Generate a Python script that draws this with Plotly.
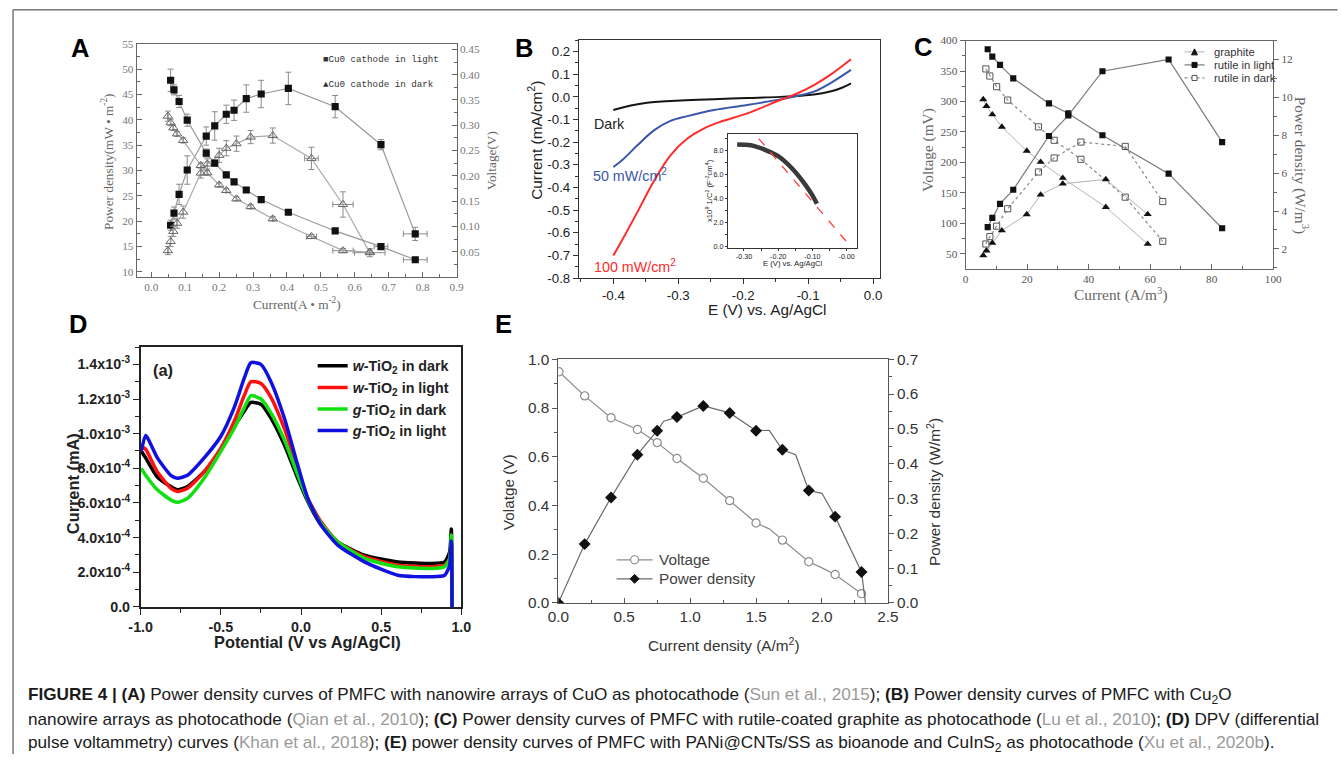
import plotly.graph_objects as go

W, H = 1341, 762
# the photographed page lands at screen = A + B * page; place everything by reference pixels
AX, BX = 11.3, 0.983
AY, BY = 9.3, 0.974
FS = 1 / 0.978

# ---------------- Panel A data (CuO photocathode) ----------------
a_light_x = [0.057, 0.067, 0.082, 0.106, 0.162, 0.187, 0.221, 0.244, 0.280, 0.324, 0.404, 0.542, 0.677, 0.778]
a_light_power = [19.2, 21.6, 25.3, 30.1, 36.8, 38.8, 41.1, 41.9, 44.2, 45.1, 46.2, 42.6, 35.1, 17.5]
a_light_power_err = [1.0, 1.2, 2.0, 2.8, 1.8, 2.8, 1.8, 2.0, 2.7, 2.7, 3.2, 2.2, 1.0, 1.3]
a_light_power_xerr = [0, 0, 0, 0, 0, 0, 0, 0, 0, 0, 0, 0, 0, 0.035]
a_light_volt = [0.389, 0.370, 0.347, 0.310, 0.245, 0.225, 0.202, 0.188, 0.172, 0.153, 0.128, 0.091, 0.060, 0.034]
a_light_volt_err = [0.022, 0.010, 0.012, 0.012, 0.008, 0.006, 0.005, 0.005, 0.005, 0.005, 0.004, 0.004, 0.004, 0.004]
a_light_volt_xerr = [0, 0, 0, 0, 0, 0, 0, 0, 0, 0, 0, 0, 0.02, 0.035]

a_dark_x = [0.049, 0.057, 0.065, 0.076, 0.094, 0.146, 0.165, 0.200, 0.221, 0.251, 0.293, 0.358, 0.472, 0.565, 0.644]
a_dark_power = [14.2, 16.0, 18.0, 19.6, 21.8, 29.5, 31.3, 33.0, 34.4, 35.3, 36.6, 36.9, 32.4, 23.3, 13.8]
a_dark_power_err = [0.8, 1.0, 1.0, 1.0, 1.2, 1.0, 1.0, 1.4, 1.5, 1.5, 1.3, 1.5, 2.2, 2.5, 0.8]
a_dark_power_xerr = [0, 0, 0, 0, 0, 0, 0, 0, 0, 0, 0, 0, 0.02, 0.03, 0.045]
a_dark_volt = [0.318, 0.305, 0.295, 0.283, 0.270, 0.2205, 0.206, 0.182, 0.171, 0.1545, 0.139, 0.115, 0.080, 0.052, 0.049]
a_dark_volt_err = [0.010, 0.006, 0.005, 0.005, 0.005, 0.005, 0.005, 0.004, 0.004, 0.004, 0.004, 0.004, 0.004, 0.004, 0.004]
a_dark_volt_xerr = [0, 0, 0, 0, 0, 0, 0, 0, 0, 0, 0, 0, 0.015, 0.03, 0.0]

# ---------------- Panel B data (Cu2O photocathode) ----------------
b_dark_x = [-0.400, -0.373, -0.348, -0.296, -0.245, -0.194, -0.143, -0.091, -0.066, -0.050, -0.034]
b_dark_y = [-0.058, -0.038, -0.026, -0.016, -0.010, -0.005, 0.000, 0.011, 0.024, 0.038, 0.060]
b_50_x = [-0.400, -0.384, -0.363, -0.337, -0.312, -0.286, -0.245, -0.194, -0.143, -0.117, -0.091, -0.066, -0.034]
b_50_y = [-0.310, -0.273, -0.214, -0.147, -0.106, -0.085, -0.058, -0.036, -0.011, 0.004, 0.023, 0.060, 0.119]
b_100_x = [-0.400, -0.384, -0.363, -0.337, -0.312, -0.286, -0.261, -0.235, -0.194, -0.143, -0.117, -0.091, -0.066, -0.034]
b_100_y = [-0.701, -0.620, -0.509, -0.369, -0.258, -0.184, -0.140, -0.110, -0.073, -0.014, 0.015, 0.052, 0.097, 0.166]
b_inset_x = [-0.32, -0.30, -0.28, -0.26, -0.24, -0.22, -0.20, -0.18, -0.16, -0.14, -0.12, -0.10, -0.087]
b_inset_y = [8.47, 8.45, 8.40, 8.25, 8.05, 7.80, 7.50, 7.05, 6.50, 5.85, 5.10, 4.25, 3.55]
b_fit_x = [-0.257, -0.002]
b_fit_y = [8.96, 0.47]

# ---------------- Panel C data (rutile-coated graphite) ----------------
c_gr_x = [5.75, 6.8, 8.7, 11.8, 19.9, 24.4, 31.6, 45.6, 59.2]
c_gr_volt = [303.4, 292.4, 278.7, 258.4, 218.9, 200.8, 174.4, 126.7, 66.3]
c_gr_power = [1.65, 1.91, 2.32, 2.97, 3.82, 4.86, 5.44, 5.67, 3.83]
c_rl_x = [7.2, 8.7, 11.2, 15.5, 27.1, 33.4, 44.5, 66.0, 83.4]
c_rl_volt = [385.7, 373.7, 360.0, 338.0, 296.8, 280.4, 244.7, 181.6, 92.1]
c_rl_power = [3.15, 3.64, 4.38, 5.12, 7.96, 9.05, 11.38, 12.0, 7.64]
c_rd_x = [6.6, 7.9, 10.1, 13.7, 23.7, 28.8, 37.5, 51.9, 64.1]
c_rd_volt = [353.4, 341.8, 324.3, 302.3, 258.4, 236.4, 205.2, 143.1, 70.7]
c_rd_power = [2.26, 2.65, 3.2, 4.12, 6.06, 6.80, 7.64, 7.41, 4.50]

# ---------------- Panel D data (DPV curves, current in 1e-4 mA) ----------------
d_x = [-0.996, -0.969, -0.896, -0.8125, -0.771, -0.708, -0.604, -0.5, -0.417, -0.354, -0.3125, -0.25,
       -0.1875, -0.104, -0.021, 0.042, 0.125, 0.229, 0.396, 0.604, 0.8125, 0.896, 0.927, 0.9375, 0.942]
d_w_dark = [8.98, 8.6, 7.5, 6.95, 6.76, 6.95, 7.8, 9.07, 10.4, 11.3, 11.8, 11.7,
            10.9, 9.36, 7.43, 6.08, 4.73, 3.76, 2.99, 2.6, 2.51, 2.6, 3.18, 4.5, 0.0]
d_w_light = [9.27, 9.1, 7.8, 6.85, 6.66, 6.85, 7.8, 9.17, 10.7, 12.2, 13.0, 12.9,
             12.1, 10.3, 8.0, 6.27, 4.92, 3.76, 2.9, 2.41, 2.32, 2.41, 2.8, 3.76, 0.0]
d_g_dark = [8.0, 7.6, 6.76, 6.18, 6.04, 6.27, 7.43, 8.98, 10.3, 11.5, 12.2, 12.0,
            11.2, 9.65, 7.63, 6.18, 4.83, 3.76, 2.8, 2.32, 2.22, 2.32, 2.8, 4.15, 0.0]
d_g_light = [8.98, 9.9, 8.6, 7.6, 7.43, 7.6, 8.6, 9.85, 11.5, 13.2, 14.1, 14.0,
             13.0, 10.9, 8.2, 6.27, 4.73, 3.57, 2.6, 1.83, 1.74, 1.83, 2.4, 3.8, 0.0]
d_scale = 1e-4
d_names = ["<i>w</i>-TiO<sub>2</sub> in dark", "<i>w</i>-TiO<sub>2</sub> in light",
           "<i>g</i>-TiO<sub>2</sub> in dark", "<i>g</i>-TiO<sub>2</sub> in light"]
d_ticks = [0, 2e-4, 4e-4, 6e-4, 8e-4, 1.0e-3, 1.2e-3, 1.4e-3]
d_ticktext = ["0.0", "2.0x10<sup>-4</sup>", "4.0x10<sup>-4</sup>", "6.0x10<sup>-4</sup>", "8.0x10<sup>-4</sup>",
              "1.0x10<sup>-3</sup>", "1.2x10<sup>-3</sup>", "1.4x10<sup>-3</sup>"]

# ---------------- Panel E data (PANi@CNTs/SS + CuInS2) ----------------
e_x = [0.005, 0.2, 0.4, 0.6, 0.75, 0.9, 1.1, 1.3, 1.5, 1.7, 1.9, 2.1, 2.3]
e_volt = [0.949, 0.85, 0.76, 0.712, 0.658, 0.593, 0.512, 0.42, 0.328, 0.258, 0.169, 0.117, 0.038]
e_px = [0.0, 0.2, 0.4, 0.6, 0.75, 0.9, 1.1, 1.3, 1.5, 1.7, 1.9, 2.1, 2.3]
e_power = [0.0, 0.169, 0.303, 0.426, 0.495, 0.534, 0.566, 0.546, 0.495, 0.44, 0.323, 0.248, 0.089]
e_vline_x = [0.005, 0.2, 0.4, 0.6, 0.75, 0.9, 1.1, 1.3, 1.5, 1.6, 1.7, 1.9, 2.0, 2.1, 2.3]
e_vline_y = [0.949, 0.85, 0.76, 0.712, 0.658, 0.593, 0.512, 0.42, 0.328, 0.304, 0.258, 0.169, 0.144, 0.117, 0.038]
e_pline_x = [0.0, 0.2, 0.4, 0.6, 0.75, 0.8, 0.9, 1.1, 1.3, 1.5, 1.6, 1.7, 1.8, 1.9, 2.0, 2.1, 2.3, 2.33]
e_pline_y = [0.0, 0.169, 0.303, 0.426, 0.495, 0.522, 0.534, 0.566, 0.546, 0.495, 0.496, 0.44, 0.426, 0.323, 0.315, 0.248, 0.089, 0.0]

SERIF = "Liberation Serif, Times New Roman, serif"
SANS = "Liberation Sans, Arial, sans-serif"
MONO = "Liberation Mono, Courier New, monospace"


def px(x):
    return ((x - AX) / BX) / W


def py(y):
    return 1 - ((y - AY) / BY) / H


def f(s):
    return round(s * FS, 2)


def dom_x(a, b):
    return [px(a), px(b)]


def dom_y(top, bottom):
    return [py(bottom), py(top)]


fig = go.Figure()

# ---------- Panel A traces ----------
ebar = dict(color="#8a8a8a", thickness=1, width=3)
fig.add_trace(go.Scatter(x=a_light_x, y=a_light_power, mode="lines+markers", xaxis="x", yaxis="y",
                         line=dict(color="#9a9a9a", width=1.2), marker=dict(symbol="square", size=f(7), color="#111"),
                         error_y=dict(type="data", array=a_light_power_err, **ebar),
                         error_x=dict(type="data", array=a_light_power_xerr, **ebar), showlegend=False))
fig.add_trace(go.Scatter(x=a_light_x, y=a_light_volt, mode="lines+markers", xaxis="x", yaxis="y2",
                         line=dict(color="#9a9a9a", width=1.2), marker=dict(symbol="square", size=f(7), color="#111"),
                         error_y=dict(type="data", array=a_light_volt_err, **ebar),
                         error_x=dict(type="data", array=a_light_volt_xerr, **ebar), showlegend=False))
fig.add_trace(go.Scatter(x=a_dark_x, y=a_dark_power, mode="lines+markers", xaxis="x", yaxis="y",
                         line=dict(color="#aaaaaa", width=1.2),
                         marker=dict(symbol="triangle-up-open", size=f(8), color="#666", line=dict(width=1)),
                         error_y=dict(type="data", array=a_dark_power_err, **ebar),
                         error_x=dict(type="data", array=a_dark_power_xerr, **ebar), showlegend=False))
fig.add_trace(go.Scatter(x=a_dark_x, y=a_dark_volt, mode="lines+markers", xaxis="x", yaxis="y2",
                         line=dict(color="#aaaaaa", width=1.2),
                         marker=dict(symbol="triangle-up-open", size=f(8), color="#666", line=dict(width=1)),
                         error_y=dict(type="data", array=a_dark_volt_err, **ebar),
                         error_x=dict(type="data", array=a_dark_volt_xerr, **ebar), showlegend=False))

# ---------- Panel B traces ----------
fig.add_trace(go.Scatter(x=b_dark_x, y=b_dark_y, mode="lines", xaxis="x2", yaxis="y3",
                         line=dict(color="#151515", width=2, shape="spline"), showlegend=False))
fig.add_trace(go.Scatter(x=b_50_x, y=b_50_y, mode="lines", xaxis="x2", yaxis="y3",
                         line=dict(color="#3a56a8", width=2, shape="spline"), showlegend=False))
fig.add_trace(go.Scatter(x=b_100_x, y=b_100_y, mode="lines", xaxis="x2", yaxis="y3",
                         line=dict(color="#ff2a2a", width=2, shape="spline"), showlegend=False))
fig.add_trace(go.Scatter(x=b_inset_x, y=b_inset_y, mode="lines", xaxis="x3", yaxis="y4",
                         line=dict(color="#3a3a3a", width=4.5, shape="spline"), showlegend=False))
fig.add_trace(go.Scatter(x=b_fit_x, y=b_fit_y, mode="lines", xaxis="x3", yaxis="y4",
                         line=dict(color="#ff4040", width=1.3, dash="dash"), showlegend=False))

# ---------- Panel C traces ----------
fig.add_trace(go.Scatter(x=c_gr_x, y=c_gr_volt, mode="lines+markers", xaxis="x4", yaxis="y5",
                         line=dict(color="#b5b5b5", width=1), marker=dict(symbol="triangle-up", size=f(7), color="#111"),
                         showlegend=False))
fig.add_trace(go.Scatter(x=c_gr_x, y=c_gr_power, mode="lines+markers", xaxis="x4", yaxis="y6",
                         line=dict(color="#b5b5b5", width=1), marker=dict(symbol="triangle-up", size=f(7), color="#111"),
                         showlegend=False))
fig.add_trace(go.Scatter(x=c_rl_x, y=c_rl_volt, mode="lines+markers", xaxis="x4", yaxis="y5",
                         line=dict(color="#7a7a7a", width=1.2), marker=dict(symbol="square", size=f(6), color="#111"),
                         showlegend=False))
fig.add_trace(go.Scatter(x=c_rl_x, y=c_rl_power, mode="lines+markers", xaxis="x4", yaxis="y6",
                         line=dict(color="#7a7a7a", width=1.2), marker=dict(symbol="square", size=f(6), color="#111"),
                         showlegend=False))
fig.add_trace(go.Scatter(x=c_rd_x, y=c_rd_volt, mode="lines+markers", xaxis="x4", yaxis="y5",
                         line=dict(color="#8a8a8a", width=1.2, dash="dot"),
                         marker=dict(symbol="square-open", size=f(6), color="#555", line=dict(width=1)), showlegend=False))
fig.add_trace(go.Scatter(x=c_rd_x, y=c_rd_power, mode="lines+markers", xaxis="x4", yaxis="y6",
                         line=dict(color="#8a8a8a", width=1.2, dash="dot"),
                         marker=dict(symbol="square-open", size=f(6), color="#555", line=dict(width=1)), showlegend=False))

# ---------- Panel D traces ----------
d_series = [d_w_dark, d_w_light, d_g_dark, d_g_light]
d_colors = ["#000000", "#ff1010", "#10e010", "#1010e0"]
for name, ser, col in zip(d_names, d_series, d_colors):
    fig.add_trace(go.Scatter(x=d_x, y=[v * d_scale for v in ser], mode="lines", xaxis="x5", yaxis="y7",
                             name=name, line=dict(color=col, width=3.5, shape="spline", smoothing=0.6),
                             showlegend=True, legend="legend"))

# ---------- Panel E traces ----------
fig.add_trace(go.Scatter(x=e_vline_x, y=e_vline_y, mode="lines", xaxis="x6", yaxis="y8",
                         line=dict(color="#8c8c8c", width=1.2), showlegend=False))
fig.add_trace(go.Scatter(x=e_x, y=e_volt, mode="markers", xaxis="x6", yaxis="y8",
                         marker=dict(symbol="circle", size=f(8), color="white", line=dict(color="#8c8c8c", width=1.2)),
                         showlegend=False))
fig.add_trace(go.Scatter(x=e_pline_x, y=e_pline_y, mode="lines", xaxis="x6", yaxis="y9",
                         line=dict(color="#6a6a6a", width=1.2), showlegend=False))
fig.add_trace(go.Scatter(x=e_px, y=e_power, mode="markers", xaxis="x6", yaxis="y9",
                         marker=dict(symbol="diamond", size=f(9), color="#111"), showlegend=False))


def axis(domain, rng, color, font, ticks="outside", ticklen=5, minor=None, mirror=True, lw=1, **kw):
    d = dict(domain=domain, range=rng, showgrid=False, zeroline=False, showline=True, linecolor=color,
             linewidth=lw, mirror=mirror, ticks=ticks, ticklen=ticklen, tickcolor=color, tickwidth=1,
             tickfont=font, fixedrange=True)
    if minor is not None:
        d["minor"] = dict(ticks=ticks, ticklen=max(2, ticklen - 2), tickcolor=color, dtick=minor, showgrid=False)
    d.update(kw)
    return d


fontA = dict(family=SERIF, size=f(11), color="#777")
fontB = dict(family=SANS, size=f(13), color="#222")
fontBi = dict(family=SANS, size=f(7), color="#222")
fontC = dict(family=SERIF, size=f(11), color="#555")
fontD = dict(family=SANS, size=f(14), color="#222", weight="bold")
fontE = dict(family=SANS, size=f(15), color="#333")

a_xt = [0.0, 0.1, 0.2, 0.3, 0.4, 0.5, 0.6, 0.7, 0.8, 0.9]
b_xt = [-0.4, -0.3, -0.2, -0.1, 0.0]
b_yt = [0.2, 0.1, 0.0, -0.1, -0.2, -0.3, -0.4, -0.5, -0.6, -0.7, -0.8]
bi_xt = [-0.30, -0.20, -0.10, 0.0]
bi_xtext = ["-0.30", "-0.20", "-0.10", "-0.00"]
bi_yt = [0, 2, 4, 6, 8]
d_xt = [-1.0, -0.5, 0.0, 0.5, 1.0]

layout = dict(
    width=W, height=H, margin=dict(l=0, r=0, t=0, b=0), paper_bgcolor="white", plot_bgcolor="rgba(0,0,0,0)",
    # Panel A
    xaxis=axis(dom_x(136, 456), [-0.043, 0.9], "#666", fontA, ticks="inside", ticklen=5, minor=0.05,
               anchor="y", tickmode="array", tickvals=a_xt, ticktext=[f"{v:.1f}" for v in a_xt]),
    yaxis=axis(dom_y(44, 276), [9.05, 55], "#666", fontA, ticks="inside", minor=2.5, anchor="x",
               tick0=10, dtick=5),
    yaxis2=axis(dom_y(44, 276), [0.0005, 0.461], "#666", fontA, ticks="inside", minor=0.025, anchor="x",
                overlaying="y", side="right", tick0=0, dtick=0.05, tickformat=".2f", mirror=False),
    # Panel B
    xaxis2=axis(dom_x(578.3, 879), [-0.453, 0.01], "#333", fontB, ticks="outside", minor=0.05, anchor="y3",
                tickmode="array", tickvals=b_xt, ticktext=[f"{v:.1f}" for v in b_xt]),
    yaxis3=axis(dom_y(40, 277.3), [-0.8, 0.252], "#333", fontB, ticks="outside", minor=0.05, anchor="x2",
                tickmode="array", tickvals=b_yt, ticktext=[f"{v:.1f}" for v in b_yt]),
    xaxis3=axis(dom_x(727.3, 856.7), [-0.347, 0.031], "#333", fontBi, ticks="outside", ticklen=2, minor=0.05,
                anchor="y4", tickmode="array", tickvals=bi_xt, ticktext=bi_xtext),
    yaxis4=axis(dom_y(134.3, 247.3), [-0.1, 9.3], "#333", fontBi, ticks="outside", ticklen=2, minor=1,
                anchor="x3", tickmode="array", tickvals=bi_yt, ticktext=[f"{v:.1f}" for v in bi_yt]),
    # Panel C
    xaxis4=axis(dom_x(965, 1272.7), [0, 100], "#666", fontC, ticks="inside", minor=10, anchor="y5",
                tick0=0, dtick=20),
    yaxis5=axis(dom_y(40.7, 268.3), [25.3, 400], "#666", fontC, ticks="outside", minor=25, anchor="x4",
                tick0=0, dtick=50),
    yaxis6=axis(dom_y(40.7, 268.3), [0.94, 13.0], "#666", fontC, ticks="outside", minor=1, anchor="x4",
                overlaying="y5", side="right", tick0=0, dtick=2, mirror=False),
    # Panel D
    xaxis5=axis(dom_x(140, 460.7), [-1, 1], "#222", fontD, ticks="outside", ticklen=6, minor=0.25, lw=1.5,
                anchor="y7", tickmode="array", tickvals=d_xt, ticktext=[f"{v:.1f}" for v in d_xt]),
    yaxis7=axis(dom_y(345.7, 605), [0, 1.502e-3], "#222", fontD, ticks="outside", ticklen=6, minor=1e-4, lw=1.5,
                anchor="x5", tickmode="array", tickvals=d_ticks, ticktext=d_ticktext),
    # Panel E
    xaxis6=axis(dom_x(557.7, 887.3), [0, 2.5], "#555", fontE, ticks="inside", minor=0.25, anchor="y8",
                tick0=0, dtick=0.5, tickformat=".1f"),
    yaxis8=axis(dom_y(358.3, 601), [0, 1.0], "#555", fontE, ticks="outside", minor=0.1, anchor="x6",
                tick0=0, dtick=0.2, tickformat=".1f"),
    yaxis9=axis(dom_y(358.3, 601), [0, 0.7], "#555", fontE, ticks="outside", minor=0.05, anchor="x6",
                overlaying="y8", side="right", tick0=0, dtick=0.1, tickformat=".1f", mirror=False),
    legend=dict(x=px(312), y=py(349), xanchor="left", yanchor="top", bgcolor="rgba(0,0,0,0)",
                font=dict(family=SANS, size=f(14), color="#222", weight="bold"), itemwidth=30, tracegroupgap=0),
    showlegend=True,
)
fig.update_layout(**layout)

ann = []


def text(x, y, s, size, color="#222", family=SANS, angle=0, xanchor="center", weight="normal"):
    ann.append(dict(x=px(x), y=py(y), xref="paper", yref="paper", text=s, showarrow=False,
                    xanchor=xanchor, yanchor="middle", textangle=angle,
                    font=dict(family=family, size=f(size), color=color, weight=weight)))


# panel letters
for lab, (lx, ly) in {"A": (79, 48), "B": (523, 48), "C": (922, 47), "D": (77, 323), "E": (503, 323)}.items():
    text(lx, ly, lab, 25, "#000", SANS, weight="bold")

# Panel A titles / legend
text(107, 162, "Power density(mW • m<sup>-2</sup>)", 13, "#666", SERIF, angle=-90)
text(491, 160, "Voltage(V)", 13, "#666", SERIF, angle=-90)
text(296, 303, "Current(A • m<sup>-2</sup>)", 13, "#666", SERIF)
text(320, 60, "■Cu0 cathode in light", 9, "#333", MONO, xanchor="left")
text(320, 85, "▲Cu0 cathode in dark", 9, "#333", MONO, xanchor="left")

# Panel B titles / labels
text(534, 140, "Current (mA/cm<sup>2</sup>)", 15, "#222", SANS, angle=-90)
text(766, 309, "E (V) vs. Ag/AgCl", 15, "#222", SANS)
text(591, 124, "Dark", 14, "#222", SANS, xanchor="left")
text(590, 175, "50 mW/cm<sup>2</sup>", 14, "#3a56a8", SANS, xanchor="left")
text(591, 265, "100 mW/cm<sup>2</sup>", 14, "#ff2a2a", SANS, xanchor="left")
text(709, 190, "x10<sup>9</sup> 1/C<sup>2</sup> (F<sup>-2</sup>cm<sup>4</sup>)", 7.5, "#222", SANS, angle=-90)
text(792, 263, "E (V) vs. Ag/AgCl", 7.5, "#222", SANS)

# Panel C titles / legend
text(928, 150, "Voltage (mV)", 15, "#666", SERIF, angle=-90)
text(1301, 165, "Power density (W/m<sup>3</sup>)", 15, "#666", SERIF, angle=90)
text(1120, 293, "Current (A/m<sup>3</sup>)", 15, "#666", SERIF)
for yy, lab in zip([52, 65, 78], ["graphite", "rutile in light", "rutile in dark"]):
    text(1211, yy, lab, 11, "#333", SANS, xanchor="left")

# Panel D titles
text(73, 482, "Current (mA)", 16, "#222", SANS, angle=-90, weight="bold")
text(307, 640, "Potential (V vs Ag/AgCl)", 16, "#222", SANS, weight="bold")
text(162, 369, "(a)", 16, "#222", SANS, weight="bold")

# Panel E titles / legend
text(508, 491, "Volatge (V)", 15, "#333", SANS, angle=-90)
text(933, 491, "Power density (W/m<sup>2</sup>)", 15, "#333", SANS, angle=-90)
text(723, 642, "Current density (A/m<sup>2</sup>)", 15, "#333", SANS)
text(656, 558, "Voltage", 15, "#444", SANS, xanchor="left")
text(656, 577, "Power density", 15, "#444", SANS, xanchor="left")

# caption
G = "<span style='color:#9a9a9a'>"
cap = [
    "<b>FIGURE 4 | (A)</b> Power density curves of PMFC with nanowire arrays of CuO as photocathode (" + G +
    "Sun et al., 2015</span>); <b>(B)</b> Power density curves of PMFC with Cu<sub>2</sub>O",
    "nanowire arrays as photocathode (" + G + "Qian et al., 2010</span>); <b>(C)</b> Power density curves of PMFC "
    "with rutile-coated graphite as photocathode (" + G + "Lu et al., 2010</span>); <b>(D)</b> DPV (differential",
    "pulse voltammetry) curves (" + G + "Khan et al., 2018</span>); <b>(E)</b> power density curves of PMFC with "
    "PANi@CNTs/SS as bioanode and CuInS<sub>2</sub> as photocathode (" + G + "Xu et al., 2020b</span>).",
]
for yy, s in zip([693, 717, 741], cap):
    text(25, yy, s, 16.8, "#1a1a1a", SANS, xanchor="left")

fig.update_layout(annotations=ann)

# legend samples and frame (layout decorations)
shapes = []


def seg(x0, x1, y, color, width=1, dash="solid"):
    shapes.append(dict(type="line", xref="paper", yref="paper", x0=px(x0), x1=px(x1), y0=py(y), y1=py(y),
                       line=dict(color=color, width=width, dash=dash)))


def rect(cx, cy, s, fill, line):
    shapes.append(dict(type="rect", xref="paper", yref="paper", x0=px(cx - s / 2), x1=px(cx + s / 2),
                       y0=py(cy + s / 2), y1=py(cy - s / 2), fillcolor=fill, line=dict(color=line, width=1)))


def tri(cx, cy, s, fill):
    p = "M {:.5f},{:.5f} L {:.5f},{:.5f} L {:.5f},{:.5f} Z".format(
        px(cx - s / 2), py(cy + s / 2), px(cx + s / 2), py(cy + s / 2), px(cx), py(cy - s / 2))
    shapes.append(dict(type="path", xref="paper", yref="paper", path=p, fillcolor=fill, line=dict(color=fill, width=1)))


def diam(cx, cy, s, fill):
    p = "M {:.5f},{:.5f} L {:.5f},{:.5f} L {:.5f},{:.5f} L {:.5f},{:.5f} Z".format(
        px(cx), py(cy - s / 2), px(cx + s / 2), py(cy), px(cx), py(cy + s / 2), px(cx - s / 2), py(cy))
    shapes.append(dict(type="path", xref="paper", yref="paper", path=p, fillcolor=fill, line=dict(color=fill, width=1)))


def circ(cx, cy, s, line):
    shapes.append(dict(type="circle", xref="paper", yref="paper", x0=px(cx - s / 2), x1=px(cx + s / 2),
                       y0=py(cy + s / 2), y1=py(cy - s / 2), fillcolor="white", line=dict(color=line, width=1.2)))


# Panel C legend samples
seg(1184, 1204, 52, "#b5b5b5", 1)
tri(1194, 52, 6, "#111")
seg(1184, 1204, 65, "#7a7a7a", 1.2)
rect(1194, 65, 5, "#111", "#111")
seg(1184, 1204, 78, "#8a8a8a", 1.2, "dot")
rect(1194, 78, 5, "white", "#555")

# Panel E legend samples
seg(616, 652, 558, "#8c8c8c", 1.2)
circ(634, 558, 8, "#8c8c8c")
seg(616, 652, 577, "#6a6a6a", 1.2)
diam(634, 577, 9, "#111")

# outer frame (top and left edges)
shapes.append(dict(type="line", xref="paper", yref="paper", x0=0.0008, x1=px(1337), y0=py(10), y1=py(10),
                   line=dict(color="#777", width=1.5)))
shapes.append(dict(type="line", xref="paper", yref="paper", x0=0.0008, x1=0.0008, y0=py(10), y1=0,
                   line=dict(color="#777", width=1.5)))

fig.update_layout(shapes=shapes)
fig.write_html("out.html", config={"displayModeBar": False},
               post_script="document.body.style.margin='0';document.body.style.overflow='hidden';")
